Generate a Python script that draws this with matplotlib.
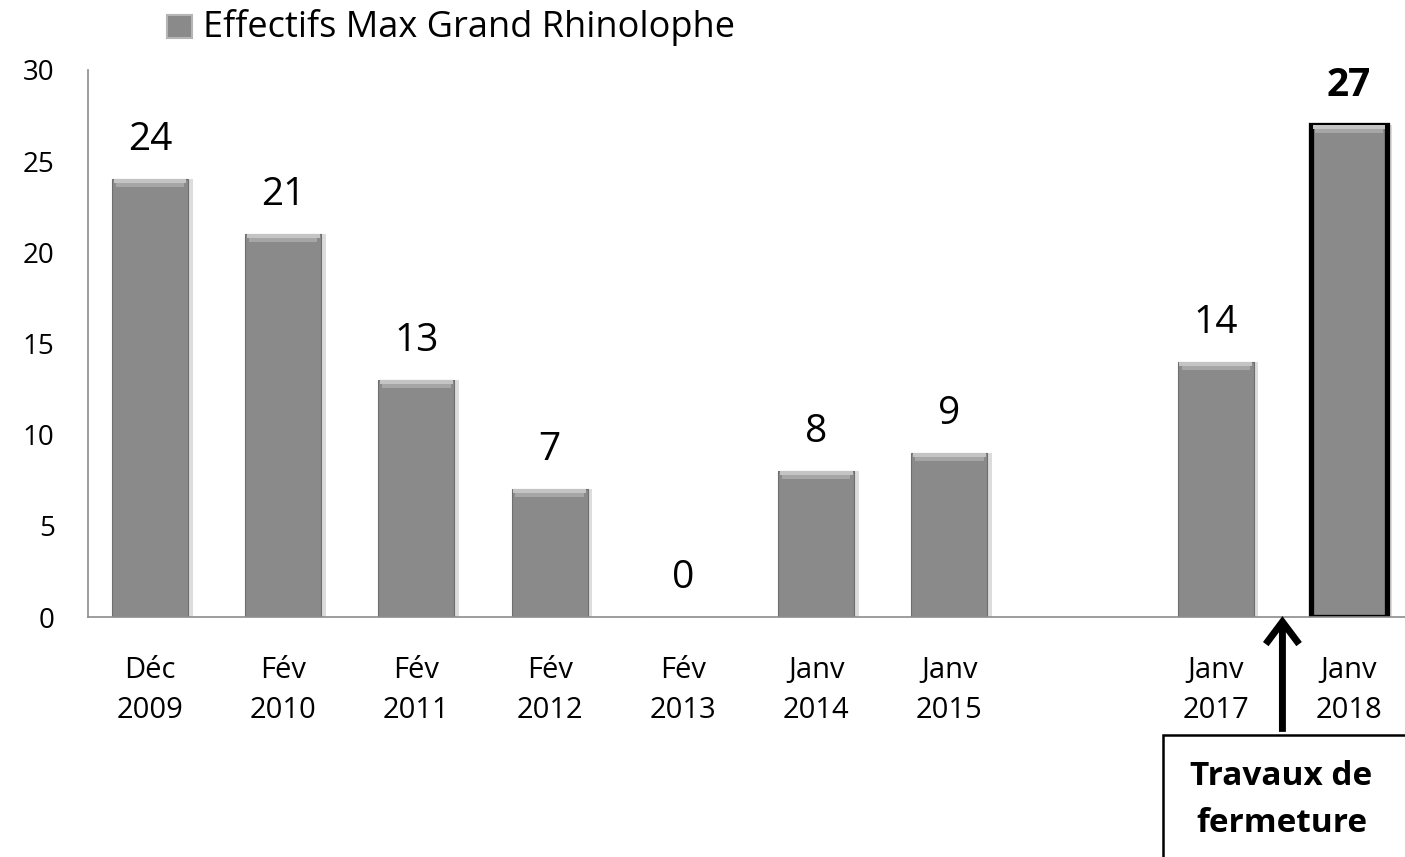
import matplotlib
matplotlib.use("Agg")
import matplotlib.pyplot as plt
from matplotlib.patches import Rectangle
import numpy as np

plt.rcParams['font.family'] = ['Open Sans', 'DejaVu Sans']

categories = ["Déc\n2009", "Fév\n2010", "Fév\n2011", "Fév\n2012", "Fév\n2013",
              "Janv\n2014", "Janv\n2015", "", "Janv\n2017", "Janv\n2018"]
values = [24, 21, 13, 7, 0, 8, 9, None, 14, 27]
series_name = "Effectifs Max Grand Rhinolophe"
annotation_text = "Travaux de\nfermeture"

W, H = 1405, 857
fig = plt.figure(figsize=(W / 100, H / 100), dpi=100)
ax = fig.add_axes([88 / W, 1 - 617 / H, (W - 88) / W, (617 - 70) / H])

x = np.arange(len(categories))
bar_w = 0.57
for xi, v in zip(x, values):
    if v is None:
        continue
    last = xi == len(values) - 1
    # soft shadow
    ax.bar(xi + 0.035, v, width=bar_w, color='#dcdcdc', zorder=1, linewidth=0)
    ax.bar(xi, v, width=bar_w, color='#8a8a8a',
           edgecolor='black' if last else '#6e6e6e',
           linewidth=3.8 if last else 0.8, zorder=2)
    if v > 0:
        # bevel highlight on top
        ax.bar(xi, 0.22, bottom=v - 0.22, width=bar_w * 0.96, color='#c4c4c4',
               linewidth=0, zorder=3)
        ax.bar(xi, 0.22, bottom=v - 0.44, width=bar_w * 0.9, color='#a6a6a6',
               linewidth=0, zorder=3)
    ax.text(xi, v + 1.1, str(v), ha='center', va='bottom',
            fontsize=28, fontweight='bold' if last else 'normal', zorder=4)

ax.set_xlim(-0.465, 9.42)
ax.set_ylim(0, 30)
ax.set_yticks(range(0, 31, 5))
ax.set_xticks(x)
ax.set_xticklabels(categories, fontsize=21, linespacing=1.5)
ax.tick_params(axis='both', length=0)
ax.tick_params(axis='x', pad=28, labelsize=21)
ax.tick_params(axis='y', pad=24, labelsize=20)
for s in ['top', 'right']:
    ax.spines[s].set_visible(False)
for s in ['left', 'bottom']:
    ax.spines[s].set_color('#8c8c8c')
    ax.spines[s].set_linewidth(1.2)

# legend
fig.patches.append(Rectangle((167 / W, 1 - 38 / H), 25 / W, 23 / H,
                             transform=fig.transFigure, facecolor='#8a8a8a',
                             edgecolor='#b5b5b5', linewidth=1.5))
fig.text(203 / W, 1 - 28 / H, series_name, fontsize=26, va='center', ha='left')

# annotation box + arrow
ax.annotate('', xy=(8.5, 0.05), xytext=(8.5, -6.3),
            arrowprops=dict(arrowstyle='->,head_width=0.3,head_length=0.4',
                            mutation_scale=40,
                            color='black', lw=5, shrinkA=0, shrinkB=0,
                            joinstyle='miter', capstyle='butt'),
            annotation_clip=False)
box = Rectangle((1163 / W, -5 / H), (W - 1163 + 5) / W, (857 - 735 + 5) / H,
                transform=fig.transFigure, facecolor='white', edgecolor='black',
                linewidth=1.8, zorder=5)
fig.patches.append(box)
fig.text((1163 + 1400) / 2 / W, 1 - 800 / H, annotation_text, ha='center',
         va='center', fontsize=24, fontweight='bold', linespacing=1.55, zorder=6)

fig.savefig('out.png', dpi=100)
